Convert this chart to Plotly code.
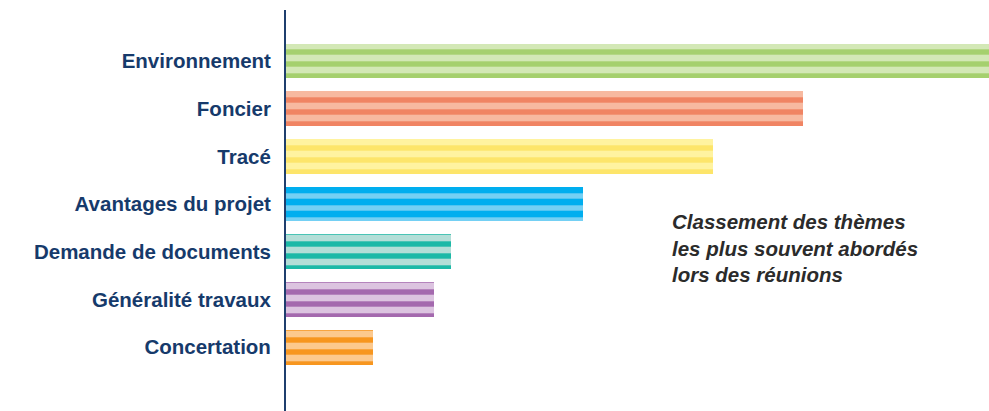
import plotly.graph_objects as go

categories = ["Environnement", "Foncier", "Tracé", "Avantages du projet",
              "Demande de documents", "Généralité travaux", "Concertation"]
values = [100, 73.5, 60.8, 42.2, 23.4, 21.1, 12.4]
bg_colors = ["#d3e8b6", "#f7b9a0", "#fff3a0", "#00aeef", "#b3ded7", "#dcc4e0", "#fcc98e"]
fg_colors = ["#a5d06e", "#f08463", "#fde56a", "#74d0f4", "#1cb9a7", "#a469ae", "#f7961f"]
note_lines = ["Classement des thèmes", "les plus souvent abordés", "lors des réunions"]

fig = go.Figure()
for cat, val, bg, fg in zip(categories, values, bg_colors, fg_colors):
    fig.add_trace(go.Bar(
        y=[cat], x=[val], orientation="h", width=0.73,
        marker=dict(color=bg, line=dict(width=0),
                    pattern=dict(shape="-", fgcolor=fg, bgcolor=bg, fgopacity=1,
                                 size=12, solidity=0.45, fillmode="overlay")),
        hoverinfo="skip", showlegend=False,
    ))

fig.update_layout(
    width=989, height=411,
    margin=dict(l=286, r=0, t=10, b=0),
    plot_bgcolor="white", paper_bgcolor="white",
    font=dict(family="Liberation Sans, Arial, sans-serif"),
    barmode="overlay", bargap=0,
)
fig.update_xaxes(range=[0, 100], visible=False)
fig.update_yaxes(
    type="category", categoryorder="array", categoryarray=categories,
    range=[7.34, -1.07], showgrid=False, zeroline=False,
    showline=True, linecolor="#1f3f6e", linewidth=2,
    ticks="", ticklabelstandoff=9,
    tickfont=dict(size=20.5, color="#163a6b", family="Liberation Sans, Arial, sans-serif", weight="bold"),
)
fig.add_annotation(
    xref="paper", yref="paper", x=(670 - 286) / 703, y=(401 - 198) / 401,
    xanchor="left", yanchor="top", align="left", showarrow=False,
    text="<br>".join(f"<b><i>{t}</i></b>" for t in note_lines),
    font=dict(size=20.5, color="#2b2b2b", family="Liberation Sans, Arial, sans-serif"),
)
fig.write_html("out.html")
